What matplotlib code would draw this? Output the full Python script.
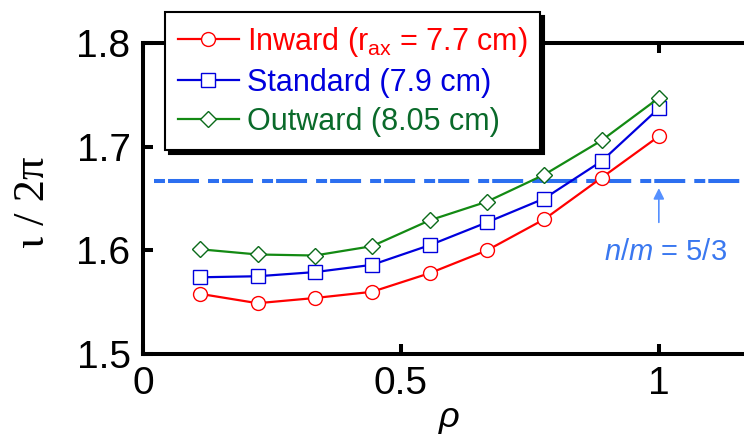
import numpy as np
import matplotlib
matplotlib.use("Agg")
import matplotlib.pyplot as plt

plt.rcParams['font.family'] = ['Liberation Sans', 'DejaVu Sans']
plt.rcParams['mathtext.fontset'] = 'custom'
plt.rcParams['mathtext.rm'] = 'Liberation Sans'
plt.rcParams['mathtext.it'] = 'Liberation Sans:italic'
plt.rcParams['lines.scale_dashes'] = False

# data
rho = [0.111, 0.222, 0.333, 0.444, 0.556, 0.667, 0.778, 0.889, 1.0]
iota_inward = [1.558, 1.549, 1.554, 1.560, 1.578, 1.600, 1.630, 1.670, 1.710]
iota_standard = [1.574, 1.575, 1.579, 1.586, 1.605, 1.627, 1.650, 1.686, 1.737]
iota_outward = [1.601, 1.596, 1.595, 1.604, 1.629, 1.647, 1.673, 1.706, 1.747]
labels = [r"Inward (r$_{\rm ax}$ = 7.7 cm)", "Standard (7.9 cm)", "Outward (8.05 cm)"]
resonance = 5 / 3

fig = plt.figure(figsize=(7.44, 4.37), dpi=100)
# axes runs past the right edge of the picture, like the original crop
ax = fig.add_axes([143 / 744, 83 / 437, 619 / 744, 311 / 437])

ax.plot(rho, iota_inward, '-o', color='#ff0000', lw=1.6, ms=10, mfc='white',
        mec='#ff0000', mew=1.0, label=labels[0], zorder=4)
ax.plot(rho, iota_standard, '-s', color='#0000dd', lw=1.6, ms=10.5, mfc='white',
        mec='#0000dd', mew=1.0, label=labels[1], zorder=4)
ax.plot(rho, iota_outward, '-D', color='#138a13', lw=1.6, ms=8, mfc='white',
        mec='#0a6a1a', mew=1.0, label=labels[2], zorder=4)

dash, = ax.plot([0.021, 1.2], [resonance, resonance], color='#2c6ff0', lw=2.9, zorder=3)
dash.set_dashes((7.9, 2.2, 22.3, 6.5))

ax.annotate('', xy=(1.0, 1.660), xytext=(1.0, 1.627),
            arrowprops=dict(arrowstyle='-|>', color='#5590ff', lw=1.2,
                            mutation_scale=16, shrinkA=0, shrinkB=0))
ax.text(1.013, 1.598, r"$n$/$m$ = 5/3", color='#3a78f0', fontsize=21,
        ha='center', va='center')

ax.set_xlim(0, 1.2)
ax.set_ylim(1.5, 1.8)
ax.set_xticks([0, 0.5, 1])
ax.set_xticklabels(['0', '0.5', '1'])
ax.set_yticks([1.5, 1.6, 1.7, 1.8])
ax.set_yticklabels(['1.5', '1.6', '1.7', '1.8'])
ax.tick_params(direction='in', length=7, width=2.9, labelsize=28, top=True, right=False)
ax.tick_params(axis='x', pad=9)
ax.tick_params(axis='y', pad=9)
for side in ['left', 'bottom', 'top']:
    ax.spines[side].set_linewidth(2.9)
ax.spines['right'].set_visible(False)

fig.text(449 / 744, 1 - 417 / 437, 'ρ', fontsize=26, style='italic',
         ha='center', va='center')
fig.text(33 / 744, 1 - 202 / 437, 'ι / 2π', fontsize=32, family='Liberation Serif',
         rotation=90, ha='center', va='center')

leg = ax.legend(loc='upper left', bbox_to_anchor=(165 / 744, 1 - 12 / 437),
                bbox_transform=fig.transFigure, borderaxespad=0, fontsize=22,
                fancybox=False, framealpha=1, edgecolor='black',
                shadow={'color': 'black', 'alpha': 1, 'ox': 3, 'oy': -3},
                handlelength=2.0, handletextpad=0.25, labelspacing=0.3,
                borderpad=0.42)
leg.get_frame().set_linewidth(1.5)
leg.set_zorder(10)
for txt, c in zip(leg.get_texts(), ['#ff0000', '#0000dd', '#0a6a2a']):
    txt.set_color(c)

fig.savefig('out.png', dpi=100)
